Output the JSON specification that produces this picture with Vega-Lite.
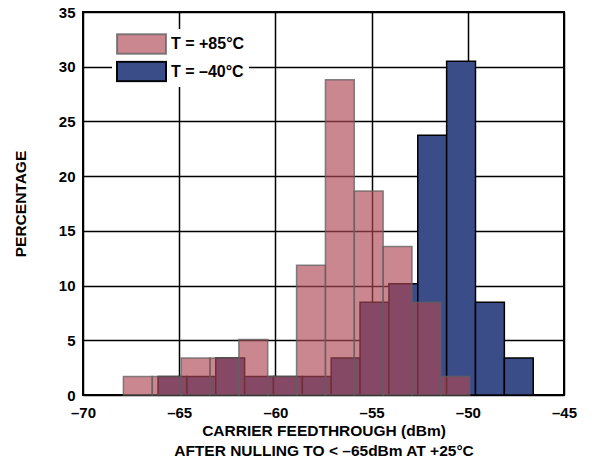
{
  "$schema": "https://vega.github.io/schema/vega-lite/v6.json",
  "width": 481,
  "height": 383,
  "autosize": {"type": "none"},
  "padding": {"left": 83, "top": 12, "right": 28, "bottom": 65},
  "background": "white",
  "data": {
    "values": [
      {"series": "T = –40°C", "x0": -66.1, "x1": -64.6, "pct": 1.69},
      {"series": "T = –40°C", "x0": -64.6, "x1": -63.1, "pct": 1.69},
      {"series": "T = –40°C", "x0": -63.1, "x1": -61.6, "pct": 3.39},
      {"series": "T = –40°C", "x0": -61.6, "x1": -60.1, "pct": 1.69},
      {"series": "T = –40°C", "x0": -60.1, "x1": -58.6, "pct": 1.69},
      {"series": "T = –40°C", "x0": -58.6, "x1": -57.1, "pct": 1.69},
      {"series": "T = –40°C", "x0": -57.1, "x1": -55.6, "pct": 3.39},
      {"series": "T = –40°C", "x0": -55.6, "x1": -54.1, "pct": 8.47},
      {"series": "T = –40°C", "x0": -54.1, "x1": -52.6, "pct": 10.17},
      {"series": "T = –40°C", "x0": -52.6, "x1": -51.1, "pct": 23.73},
      {"series": "T = –40°C", "x0": -51.1, "x1": -49.6, "pct": 30.51},
      {"series": "T = –40°C", "x0": -49.6, "x1": -48.1, "pct": 8.47},
      {"series": "T = –40°C", "x0": -48.1, "x1": -46.6, "pct": 3.39},
      {"series": "T = +85°C", "x0": -67.9, "x1": -66.4, "pct": 1.69},
      {"series": "T = +85°C", "x0": -66.4, "x1": -64.9, "pct": 1.69},
      {"series": "T = +85°C", "x0": -64.9, "x1": -63.4, "pct": 3.39},
      {"series": "T = +85°C", "x0": -63.4, "x1": -61.9, "pct": 3.39},
      {"series": "T = +85°C", "x0": -61.9, "x1": -60.4, "pct": 5.08},
      {"series": "T = +85°C", "x0": -60.4, "x1": -58.9, "pct": 1.69},
      {"series": "T = +85°C", "x0": -58.9, "x1": -57.4, "pct": 11.86},
      {"series": "T = +85°C", "x0": -57.4, "x1": -55.9, "pct": 28.81},
      {"series": "T = +85°C", "x0": -55.9, "x1": -54.4, "pct": 18.64},
      {"series": "T = +85°C", "x0": -54.4, "x1": -52.9, "pct": 13.56},
      {"series": "T = +85°C", "x0": -52.9, "x1": -51.4, "pct": 8.47},
      {"series": "T = +85°C", "x0": -51.4, "x1": -49.9, "pct": 1.69}
    ]
  },
  "mark": {"type": "bar", "strokeWidth": 1.5},
  "encoding": {
    "x": {
      "field": "x0",
      "type": "quantitative",
      "scale": {"domain": [-70, -45], "nice": false, "zero": false},
      "axis": {
        "values": [-70, -65, -60, -55, -50, -45],
        "labelExpr": "datum.value < 0 ? '–' + abs(datum.value) : datum.label",
        "labelFlush": false,
        "labelOverlap": false,
        "labelPadding": 10,
        "title": ["CARRIER FEEDTHROUGH (dBm)", "AFTER NULLING TO < –65dBm AT +25°C"],
        "titleY": 28,
        "titleBaseline": "top",
        "titleLineHeight": 20
      }
    },
    "x2": {"field": "x1"},
    "y": {
      "field": "pct",
      "type": "quantitative",
      "stack": null,
      "scale": {"domain": [0, 35], "nice": false},
      "axis": {
        "values": [0, 5, 10, 15, 20, 25, 30, 35],
        "labelPadding": 8,
        "title": "PERCENTAGE",
        "titleAngle": 270,
        "titleBaseline": "middle",
        "titleX": -63,
        "titleY": 191.5
      }
    },
    "y2": {"datum": 0},
    "fill": {
      "field": "series",
      "type": "nominal",
      "scale": {"domain": ["T = +85°C", "T = –40°C"], "range": ["rgba(173,70,85,0.65)", "#3b4d88"]},
      "legend": {
        "orient": "none",
        "legendX": 29,
        "legendY": 17,
        "title": null,
        "symbolType": "M-1,-0.4H1V0.4H-1Z",
        "symbolSize": 2401,
        "symbolStrokeWidth": 2,
        "clipHeight": 22,
        "rowPadding": 5.5,
        "labelOffset": 4,
        "padding": 4,
        "fillColor": "white"
      }
    },
    "stroke": {
      "field": "series",
      "type": "nominal",
      "scale": {"domain": ["T = +85°C", "T = –40°C"], "range": ["rgba(95,95,95,0.75)", "#000000"]},
      "legend": {
        "orient": "none",
        "legendX": 29,
        "legendY": 17,
        "title": null,
        "symbolType": "M-1,-0.4H1V0.4H-1Z",
        "symbolSize": 2401,
        "symbolStrokeWidth": 2,
        "clipHeight": 22,
        "rowPadding": 5.5,
        "labelOffset": 4,
        "padding": 4,
        "fillColor": "white"
      }
    }
  },
  "config": {
    "view": {"stroke": "black", "strokeWidth": 2},
    "axis": {
      "domain": false,
      "ticks": false,
      "grid": true,
      "gridColor": "black",
      "gridWidth": 1.5,
      "gridOpacity": 1,
      "labelFont": "Liberation Sans",
      "labelFontWeight": "bold",
      "labelFontSize": 15,
      "labelColor": "black",
      "titleFont": "Liberation Sans",
      "titleFontWeight": "bold",
      "titleFontSize": 15.5,
      "titleColor": "black"
    },
    "legend": {
      "labelFont": "Liberation Sans",
      "labelFontWeight": "bold",
      "labelFontSize": 16,
      "labelColor": "black"
    }
  }
}
